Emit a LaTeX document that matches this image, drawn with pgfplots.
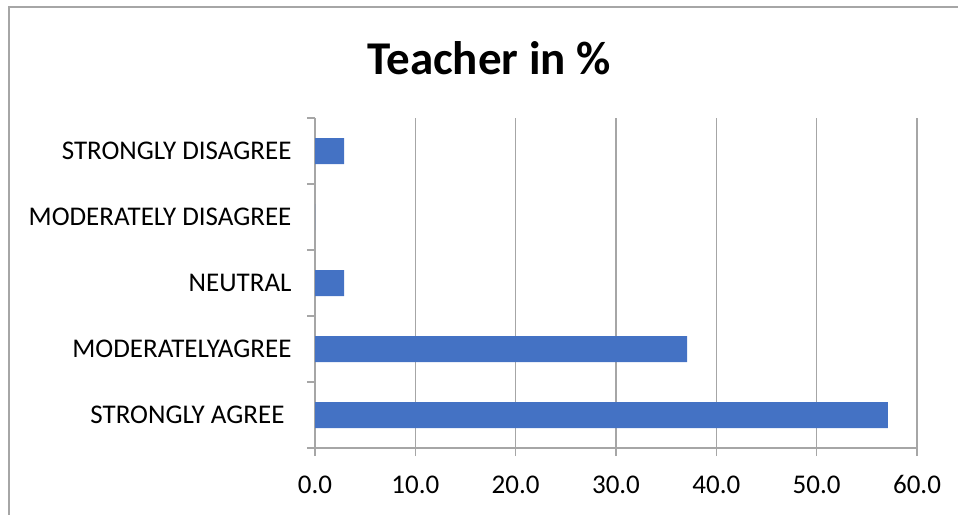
\documentclass[border=0pt]{standalone}
\usepackage{pgfplots}
\pgfplotsset{compat=1.18}
\usepackage{fontspec}
\setmainfont{Carlito}
\definecolor{barblue}{HTML}{4472C4}
\definecolor{gridgray}{HTML}{A6A6A6}

\begin{document}
\begin{tikzpicture}[x=1pt,y=1pt]
  \useasboundingbox (0,0) rectangle (958,514);
  % outer chart frame (right and bottom edges fall outside)
  \draw[gridgray, line width=2pt] (9,-20) -- (9,507) -- (980,507);
  \node[anchor=base] at (489,439) {\fontsize{47}{56}\selectfont\bfseries Teacher in \%};

  \begin{axis}[
      at={(315pt,66pt)}, anchor=south west,
      scale only axis, width=602pt, height=330pt,
      xmin=0, xmax=60, ymin=-0.5, ymax=4.5,
      axis x line*=bottom, axis y line*=left,
      axis line style={gridgray, line width=1.6pt, -},
      xmajorgrids, grid style={gridgray, line width=1.3pt},
      xtick={0,10,...,60},
      xticklabel style={/pgf/number format/fixed, /pgf/number format/fixed zerofill, /pgf/number format/precision=1},
      /pgf/number format/assume math mode=true,
      tick align=outside, major tick length=8pt,
      tick style={gridgray, line width=1.6pt},
      ytick={-0.5,0.5,...,4.5}, yticklabels={},
      extra y ticks={0,1,2,3,4},
      extra y tick labels={{STRONGLY AGREE\kern7pt}, MODERATELYAGREE, NEUTRAL, MODERATELY DISAGREE, STRONGLY DISAGREE},
      extra y tick style={major tick length=0pt, grid=none},
      ticklabel style={font=\fontsize{27}{32}\selectfont, text=black},
      yticklabel style={xshift=-20pt},
      xticklabel style={yshift=-16pt},
    ]
    \addplot[xbar, fill=barblue, draw=none, bar width=26pt] coordinates {
        (57.1,0)
        (37.1,1)
        (2.9,2)
        (0,3)
        (2.9,4)
      };
  \end{axis}
\end{tikzpicture}
\end{document}
